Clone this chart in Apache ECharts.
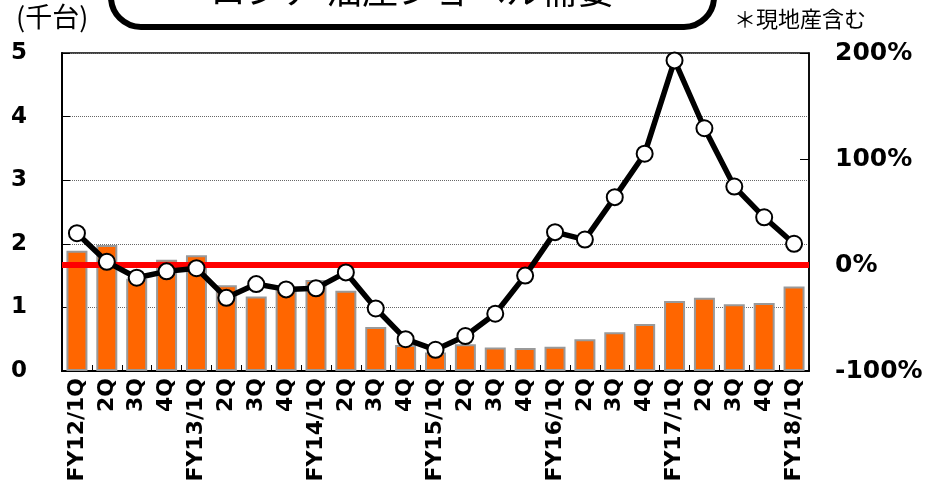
<!DOCTYPE html>
<html>
<head>
<meta charset="utf-8">
<script src="https://cdn.jsdelivr.net/npm/echarts@6/dist/echarts.min.js"></script>
<style>
html,body{margin:0;padding:0;background:#fff;}
#chart{width:931px;height:486px;}
</style>
</head>
<body>
<div id="chart"></div>
<script>
// ---- data ----
var categories = ['FY12/1Q','2Q','3Q','4Q','FY13/1Q','2Q','3Q','4Q','FY14/1Q','2Q','3Q','4Q','FY15/1Q','2Q','3Q','4Q','FY16/1Q','2Q','3Q','4Q','FY17/1Q','2Q','3Q','4Q','FY18/1Q'];
var demand = [1.89,1.98,1.45,1.75,1.82,1.35,1.17,1.30,1.43,1.26,0.69,0.41,0.29,0.42,0.37,0.36,0.38,0.50,0.61,0.74,1.10,1.15,1.05,1.07,1.33];
var growth = [30,3,-12,-6,-3,-31,-18,-23,-22,-7,-41,-70,-80,-67,-46,-10,31,24,64,105,193,129,74,45,20];
var leftTicks = {min:0, max:5, interval:1};
var rightTicks = {min:-100, max:200, interval:100};
var zeroLine = 0;
var titleText = 'ロシア 油圧ショベル需要';
var unitText = '(千台)';
var noteText = '＊現地産含む';

var chart = echarts.init(document.getElementById('chart'), null, {renderer:'canvas'});
var labelFont = 'DejaVu Sans';
var cjkFont = '"Noto Sans CJK JP", "Noto Sans CJK SC", sans-serif';

chart.setOption({
  animation:false,
  backgroundColor:'#fff',
  grid:{left:62, right:122, top:53, bottom:115, show:true, borderColor:'#000', borderWidth:1.5, backgroundColor:'transparent'},
  graphic:[
    {type:'rect', shape:{x:111, y:-40, width:603, height:67, r:30},
     style:{fill:'#fff', stroke:'#000', lineWidth:6}, z:10},
    {type:'text', x:412, y:-10, z:11,
     style:{text:titleText, fill:'#000', font:'36px ' + cjkFont, textAlign:'center', textVerticalAlign:'middle'}},
    {type:'text', x:16, y:17, z:11,
     style:{text:unitText, fill:'#000', font:'27px ' + cjkFont, textAlign:'left', textVerticalAlign:'middle'}},
    {type:'text', x:734, y:19, z:11,
     style:{text:noteText, fill:'#000', font:'22px ' + cjkFont, textAlign:'left', textVerticalAlign:'middle'}}
  ],
  xAxis:{
    type:'category', data:categories, boundaryGap:true,
    axisLine:{show:true, lineStyle:{color:'#000', width:2}},
    axisTick:{show:true, inside:true, length:6, lineStyle:{color:'#000', width:1}},
    axisLabel:{interval:0, rotate:90, fontSize:22, fontWeight:'bold', color:'#000', fontFamily:labelFont, margin:7},
    splitLine:{show:false}
  },
  yAxis:[
    {type:'value', min:leftTicks.min, max:leftTicks.max, interval:leftTicks.interval, position:'left',
     axisLine:{show:true, lineStyle:{color:'#000', width:2}},
     axisTick:{show:true, inside:true, length:8, lineStyle:{color:'#000', width:1}},
     splitLine:{show:true, lineStyle:{color:'#666', width:1, type:'dotted'}},
     axisLabel:{fontSize:23, fontWeight:'bold', color:'#000', fontFamily:labelFont, margin:35}},
    {type:'value', min:rightTicks.min, max:rightTicks.max, interval:rightTicks.interval, position:'right',
     axisLine:{show:true, lineStyle:{color:'#000', width:1.5}},
     axisTick:{show:true, inside:true, length:9, lineStyle:{color:'#000', width:1}},
     splitLine:{show:false},
     axisLabel:{formatter:'{value}%', fontSize:25, fontWeight:'bold', color:'#000', fontFamily:labelFont, margin:26}}
  ],
  series:[
    {type:'bar', yAxisIndex:0, data:demand, barWidth:21, z:2,
     itemStyle:{color:'#FF6600', borderColor:'#999', borderWidth:2}},
    {type:'line', yAxisIndex:1, data:growth, z:10,
     symbol:'circle', symbolSize:16, showAllSymbol:true,
     lineStyle:{color:'#000', width:5.5},
     itemStyle:{color:'#fff', borderColor:'#000', borderWidth:2},
     markLine:{silent:true, symbol:'none', z:5, label:{show:false},
       lineStyle:{color:'#FF0000', width:6, type:'solid'},
       data:[{yAxis:zeroLine}]}}
  ]
});
</script>
</body>
</html>
